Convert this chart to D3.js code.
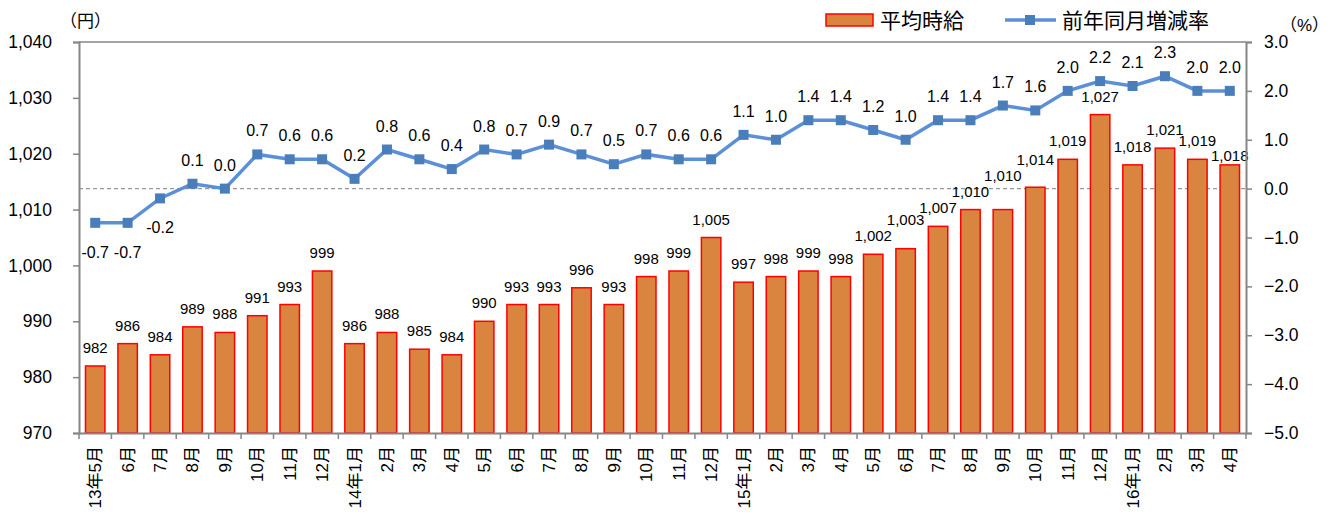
<!DOCTYPE html>
<html><head><meta charset="utf-8">
<script src="https://cdn.jsdelivr.net/npm/d3@7"></script>
<style>
body{margin:0;background:#fff;}
text{font-family:"Liberation Sans",Arial,"Noto Sans CJK JP",sans-serif;fill:#000;}
</style></head>
<body><svg id="c" width="1329" height="518"></svg>
<script>
const categories = ["13年5月","6月","7月","8月","9月","10月","11月","12月","14年1月","2月","3月","4月","5月","6月","7月","8月","9月","10月","11月","12月","15年1月","2月","3月","4月","5月","6月","7月","8月","9月","10月","11月","12月","16年1月","2月","3月","4月"];
const wages = [982,986,984,989,988,991,993,999,986,988,985,984,990,993,993,996,993,998,999,1005,997,998,999,998,1002,1003,1007,1010,1010,1014,1019,1027,1018,1021,1019,1018];
const rates = [-0.7,-0.7,-0.2,0.1,0.0,0.7,0.6,0.6,0.2,0.8,0.6,0.4,0.8,0.7,0.9,0.7,0.5,0.7,0.6,0.6,1.1,1.0,1.4,1.4,1.2,1.0,1.4,1.4,1.7,1.6,2.0,2.2,2.1,2.3,2.0,2.0];
const leftTicks = [970,980,990,1000,1010,1020,1030,1040];
const rightTicks = [-5,-4,-3,-2,-1,0,1,2,3];
const seriesNames = ["平均時給","前年同月増減率"];

const svg = d3.select("#c");
const L=79, R=1246, T=42, B=433;
const keys = categories.map((d,i)=>i);
const x = d3.scaleBand().domain(keys).range([L,R]).paddingInner(0.4).paddingOuter(0.2);
const xb = d3.scaleBand().domain(keys).range([L,R]);
const yL = d3.scaleLinear().domain([970,1040]).range([B,T]);
const yR = d3.scaleLinear().domain([-5,3]).range([B,T]);
const axisColor="#868686";
const fmt = d3.format(",");
const axisFont = '"Open Sans","Noto Sans CJK JP",sans-serif';

// dashed zero line
svg.append("line").attr("x1",L).attr("x2",R).attr("y1",yR(0)).attr("y2",yR(0))
  .attr("stroke","#999").attr("stroke-width",1.2).attr("stroke-dasharray","4,3");

// bars
svg.append("g").selectAll("rect").data(wages).join("rect")
  .attr("x",(d,i)=>x(i)).attr("width",x.bandwidth())
  .attr("y",d=>yL(d)).attr("height",d=>B-yL(d))
  .attr("fill","#D9843F").attr("stroke","#FF0000").attr("stroke-width",1.5);

// bar labels with simple collision avoidance against the previous label
const bl = svg.append("g").selectAll("text").data(wages).join("text")
  .attr("x",(d,i)=>x(i)+x.bandwidth()/2).attr("y",d=>yL(d)-13)
  .attr("text-anchor","middle").attr("font-size",15).text(d=>fmt(d));
const boxes=[];
bl.each(function(d,i){
  const w=this.getComputedTextLength();
  const cxp=x(i)+x.bandwidth()/2;
  let base=yL(d)-13;
  const h=15;
  if(boxes.length){
    const p=boxes[boxes.length-1];
    const hov = Math.abs(cxp-p.cx) < (w+p.w)/2;
    const vov = Math.abs(base-p.base) < 10;
    if(hov && vov){
      if(p.base < base) base = Math.min(p.base+h, yL(d)-3);
      else base = p.base-h-1;
    }
  }
  boxes.push({cx:cxp,w:w,base:base});
  d3.select(this).attr("y",base);
});

// frame: top line
svg.append("line").attr("x1",L).attr("x2",R).attr("y1",T).attr("y2",T).attr("stroke",axisColor).attr("stroke-width",1.5);

// axes
const gl = svg.append("g").attr("transform",`translate(${L},0)`)
  .call(d3.axisLeft(yL).tickValues(leftTicks).tickFormat(fmt).tickSize(6).tickPadding(21));
const gr = svg.append("g").attr("transform",`translate(${R},0)`)
  .call(d3.axisRight(yR).tickValues(rightTicks).tickFormat(d3.format(".1f")).tickSize(6).tickPadding(12));
const gb = svg.append("g").attr("transform",`translate(0,${B})`)
  .call(d3.axisBottom(xb).tickValues([]).tickSize(0));
[gl,gr,gb].forEach(g=>{
  g.select(".domain").attr("stroke",axisColor).attr("stroke-width",2);
  g.selectAll(".tick line").attr("stroke",axisColor).attr("stroke-width",1.5);
  g.selectAll("text").attr("font-size",17.5).attr("fill","#000").attr("font-family",axisFont);
});
// category boundary ticks
svg.append("g").selectAll("line").data(d3.range(categories.length+1)).join("line")
  .attr("x1",i=>L+i*xb.step()).attr("x2",i=>L+i*xb.step())
  .attr("y1",B).attr("y2",B+6).attr("stroke",axisColor).attr("stroke-width",1.5);
// category labels rotated
svg.append("g").selectAll("text").data(categories).join("text")
  .attr("transform",(d,i)=>`translate(${xb(i)+xb.bandwidth()/2+6},${B+13}) rotate(-90)`)
  .attr("text-anchor","end").attr("font-size",17).attr("font-family",axisFont).text(d=>d);

// line
const cx = i=>x(i)+x.bandwidth()/2;
svg.append("path").datum(rates)
  .attr("d",d3.line().x((d,i)=>cx(i)).y(d=>yR(d)))
  .attr("fill","none").attr("stroke","#5B8FD8").attr("stroke-width",3.5);
svg.append("g").selectAll("rect").data(rates).join("rect")
  .attr("x",(d,i)=>cx(i)-5).attr("y",d=>yR(d)-5).attr("width",10).attr("height",10)
  .attr("fill","#4A7EBB");
svg.append("g").selectAll("text").data(rates).join("text")
  .attr("x",(d,i)=>cx(i)).attr("y",d=>d<0?yR(d)+35:yR(d)-18)
  .attr("text-anchor","middle").attr("font-size",16).text(d=>d.toFixed(1));

// unit labels
svg.append("text").attr("x",60).attr("y",27).attr("font-size",17).attr("font-family",axisFont).text("（円）");
svg.append("text").attr("x",1280).attr("y",31).attr("font-size",17).attr("font-family",axisFont).text("（%）");

// legend
svg.append("rect").attr("x",826).attr("y",14).attr("width",47).attr("height",12)
  .attr("fill","#D9843F").attr("stroke","#FF0000").attr("stroke-width",1.5);
svg.append("text").attr("x",880).attr("y",28).attr("font-size",21).attr("font-family",axisFont).text(seriesNames[0]);
svg.append("line").attr("x1",1005).attr("x2",1056).attr("y1",20).attr("y2",20)
  .attr("stroke","#5B8FD8").attr("stroke-width",3.5);
svg.append("rect").attr("x",1025).attr("y",15).attr("width",10).attr("height",10).attr("fill","#4A7EBB");
svg.append("text").attr("x",1062).attr("y",28).attr("font-size",21).attr("font-family",axisFont).text(seriesNames[1]);
</script></body></html>
